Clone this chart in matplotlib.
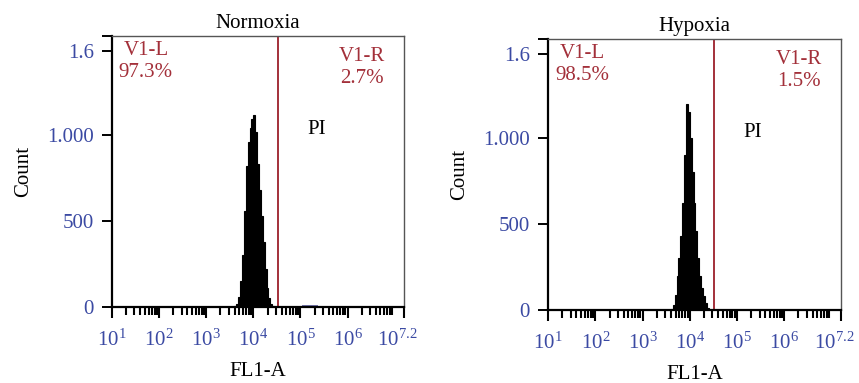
import numpy as np
import matplotlib
matplotlib.use("Agg")
from matplotlib import pyplot as plt
from matplotlib.ticker import FixedLocator, LogLocator, NullFormatter
from matplotlib.transforms import ScaledTranslation

# histogram bins in log10(FL1-A)
binEdges = [3.60, 3.64, 3.68, 3.72, 3.76, 3.80, 3.84, 3.88, 3.92, 3.96, 4.00,
            4.04, 4.08, 4.12, 4.16, 4.20, 4.24, 4.28, 4.32, 4.36, 4.40, 4.44]
countsNormoxia = [5, 20, 60, 150, 300, 560, 820, 960, 1040, 1090, 1116,
                  1020, 830, 680, 530, 380, 220, 110, 50, 15, 5]
countsHypoxia = [5, 30, 90, 200, 300, 430, 620, 900, 1198, 1150, 1000,
                 800, 620, 460, 300, 200, 130, 80, 40, 10, 0]

# small events to the right of the gate (normoxia)
smallEdges = [5.04, 5.11, 5.18, 5.25, 5.32, 5.38]
smallCounts = [10, 12, 12, 11, 9]

gateLog = 4.52
titles = ["Normoxia", "Hypoxia"]
leftPct = ["97.3%", "98.5%"]
rightPct = ["2.7%", "1.5%"]

yTicks = [0, 500, 1000, 1490, 1575]
yTickLabels = ["0", "500", "1.000", "1.6", ""]
xTickExp = [1, 2, 3, 4, 5, 6, 7.2]

blue = "#3b4aa3"
red = "#a3303a"
fs = 15

plt.rcParams['font.family'] = ['Liberation Serif', 'DejaVu Serif']
plt.rcParams['mathtext.fontset'] = 'custom'
plt.rcParams['mathtext.rm'] = 'Liberation Serif'
plt.rcParams['mathtext.it'] = 'Liberation Serif'


def drawPanel(fig, ax, counts, idx):
    edges = 10 ** np.array(binEdges)
    ax.bar(edges[:-1], counts, width=np.diff(edges), align="edge",
           color="black", edgecolor="black", lw=0.8)
    if idx == 0:
        se = 10 ** np.array(smallEdges)
        ax.bar(se[:-1], smallCounts, width=np.diff(se), align="edge",
               color="#3a3f8a", alpha=0.7, lw=0)

    ax.set_xscale("log")
    ax.set_xlim(10 ** 1, 10 ** 7.2)
    ax.set_ylim(0, 1575)
    ax.axvline(10 ** gateLog, color=red, lw=1.4)

    ax.xaxis.set_major_locator(FixedLocator([10 ** e for e in xTickExp]))
    ax.set_xticklabels([r"$\mathregular{10^{%s}}$" % str(e) for e in xTickExp],
                       fontsize=fs, color=blue)
    ax.xaxis.set_minor_locator(LogLocator(base=10, subs=range(2, 10), numticks=20))
    ax.xaxis.set_minor_formatter(NullFormatter())

    ax.set_yticks(yTicks)
    ax.set_yticklabels(yTickLabels, fontsize=fs, color=blue)

    ax.tick_params(axis="x", which="major", direction="out", length=8, width=1.5,
                   colors="black", pad=8)
    ax.tick_params(axis="x", which="minor", direction="out", length=6, width=1.5,
                   colors="black")
    ax.tick_params(axis="y", direction="out", length=7, width=1.4, pad=6)
    for lab in ax.get_xticklabels() + ax.get_yticklabels():
        lab.set_color(blue)
        lab.set_fontsize(fs)
    last = ax.get_xticklabels()[-1]
    last.set_transform(last.get_transform() + ScaledTranslation(-5 / 72, 0, fig.dpi_scale_trans))

    for s in ["left", "bottom"]:
        ax.spines[s].set_linewidth(1.6)
        ax.spines[s].set_color("black")
    for s in ["top", "right"]:
        ax.spines[s].set_linewidth(1.0)
        ax.spines[s].set_color("#555555")

    ax.set_title(titles[idx], fontsize=fs, pad=6)
    ax.set_xlabel("FL1-A", fontsize=fs, labelpad=8)
    ax.set_ylabel("Count", fontsize=fs, labelpad=10)

    ax.text(0.116, 0.98, "V1-L\n" + leftPct[idx], transform=ax.transAxes,
            ha="center", va="top", color=red, fontsize=fs, linespacing=1.2)
    ax.text(0.857, 0.96, "V1-R\n" + rightPct[idx], transform=ax.transAxes,
            ha="center", va="top", color=red, fontsize=fs, linespacing=1.2)
    ax.text(0.70, 0.655, "PI", transform=ax.transAxes,
            ha="center", va="center", color="black", fontsize=fs)


fig = plt.figure(figsize=(8.59, 3.83), dpi=100)
ax1 = fig.add_axes([0.1304, 0.1984, 0.340, 0.7076])
ax2 = fig.add_axes([0.638, 0.1906, 0.341, 0.7076])

drawPanel(fig, ax1, countsNormoxia, 0)
drawPanel(fig, ax2, countsHypoxia, 1)

fig.savefig("out.png", dpi=100)
